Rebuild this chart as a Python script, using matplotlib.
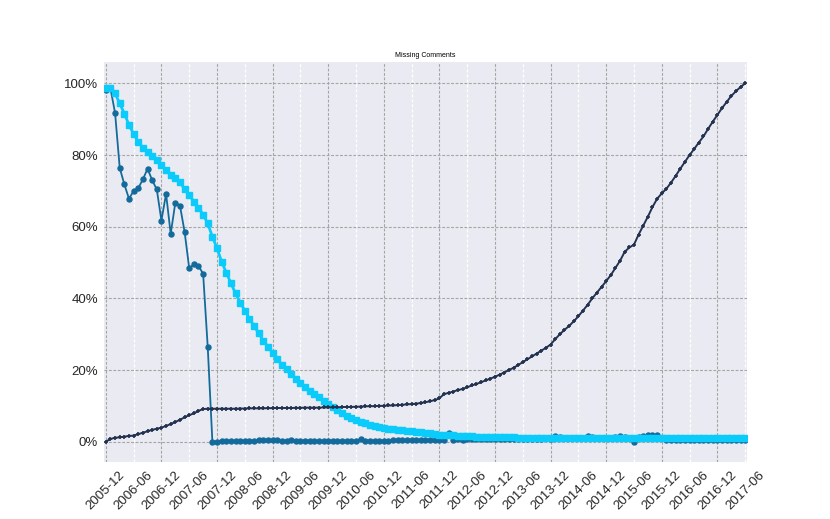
import matplotlib
matplotlib.use("Agg")
import matplotlib.pyplot as plt
import matplotlib.ticker as mticker
import numpy as np
import pandas as pd

plt.rcParams['font.family'] = ['Liberation Sans', 'DejaVu Sans']

# Monthly categories 2005-12 .. 2017-06
months = pd.period_range('2005-12', '2017-06', freq='M')
month_labels = [p.strftime('%Y-%m') for p in months]

title = "Missing Comments"

# Series values (percent)
teal_values = [
    98.2, 98.6, 91.7, 76.4, 71.8, 67.8, 70.0, 70.8, 73.2, 76.2, 73.0, 70.4,
    61.7, 69.2, 58.0, 66.7, 65.9, 58.6, 48.4, 49.5, 49.0, 46.9, 26.3,
    0.0, 0.0, 0.05, 0.1, 0.1, 0.15, 0.15, 0.2,
    0.3, 0.3, 0.35, 0.4, 0.4, 0.35, 0.4, 0.3, 0.3, 0.35, 0.3, 0.3, 0.25, 0.25, 0.25,
    0.2, 0.2, 0.2, 0.25, 0.2, 0.2, 0.25, 0.3, 0.25,
    0.7,
    0.3, 0.3, 0.25, 0.3, 0.3, 0.25, 0.35, 0.4, 0.4, 0.45, 0.5, 0.5, 0.45, 0.4, 0.5, 0.45, 0.4, 0.45,
    2.3,
    0.6, 0.65, 0.6, 0.7, 0.65, 0.7, 0.75, 0.7, 0.7, 0.75, 0.8, 0.7, 0.75, 0.8, 0.8, 0.75,
    0.8, 0.85, 0.8, 0.85, 0.9, 0.85,
    1.6, 1.4,
    0.9, 0.95, 0.9, 1.0, 0.95,
    1.6, 1.3,
    1.0, 0.95, 1.0, 1.0,
    1.4, 1.5, 1.4,
    0.9,
    0.0,
    1.4, 1.5,
    1.9, 2.0, 1.8,
    0.9, 0.6, 0.5, 0.5, 0.45, 0.5, 0.4, 0.45, 0.4, 0.4, 0.45, 0.4, 0.4, 0.35, 0.4, 0.4, 0.35, 0.4, 0.4,
]

cyan_values = [
    98.6, 98.8, 97.2, 94.4, 91.6, 88.4, 85.9, 83.7, 82.0, 80.9, 79.8, 78.6, 77.2,
    75.8, 74.4, 73.5, 72.4, 70.5, 68.8, 67.0, 65.3, 63.4, 60.9, 57.2, 54.0, 50.2,
    47.2, 44.2, 41.4, 38.8, 36.6, 34.3, 32.3, 30.2, 28.2, 26.5, 24.8, 23.1, 21.5,
    20.2, 18.9, 17.6, 16.3, 15.3, 14.2, 13.3, 12.4, 11.3, 10.4, 9.6, 8.8, 7.9,
    7.2, 6.6, 6.1, 5.6, 5.1, 4.7, 4.4, 4.1, 3.9, 3.6, 3.4, 3.3,
    3.2, 3.1, 3.0, 2.8, 2.6, 2.5, 2.3, 2.2, 2.0, 1.9, 1.8, 1.75, 1.7, 1.6, 1.5,
    1.45, 1.4, 1.35, 1.3, 1.3, 1.25, 1.25, 1.2, 1.2, 1.2,
    1.15, 1.15, 1.15, 1.15, 1.15, 1.15, 1.15, 1.15, 1.15, 1.15,
    1.1, 1.1, 1.1, 1.1, 1.1, 1.1, 1.1, 1.1, 1.1, 1.1,
    1.05, 1.05, 1.05, 1.05, 1.05, 1.05, 1.05, 1.05, 1.05, 1.05,
    1.0, 1.0, 1.0, 1.0, 1.0, 1.0, 1.0, 1.0, 1.0, 1.0,
    0.95, 0.95, 0.95, 0.95, 0.95, 0.95, 0.95, 0.95, 0.95, 0.95,
]

navy_values = [
    0.0, 0.75, 1.1, 1.2, 1.4, 1.6, 1.7, 2.1, 2.5, 2.9, 3.3, 3.6, 3.9, 4.4, 4.9,
    5.5, 6.1, 6.8, 7.4, 7.9, 8.6, 9.1, 9.2,
    9.2, 9.2, 9.2, 9.2, 9.2, 9.2, 9.25, 9.25, 9.3, 9.3, 9.3, 9.3, 9.35, 9.35,
    9.4, 9.4, 9.4, 9.4, 9.45, 9.45, 9.5, 9.5, 9.5, 9.5, 9.55,
    9.55, 9.6, 9.6, 9.65, 9.7, 9.7, 9.75, 9.8, 9.85, 9.9, 9.9, 10.0,
    10.0, 10.1, 10.1, 10.2, 10.3, 10.4, 10.5, 10.6, 10.8, 11.0, 11.3, 11.6, 12.1,
    13.3, 13.6, 14.0, 14.4, 14.7, 15.2, 15.7, 16.1, 16.6, 17.1, 17.6, 18.1, 18.7,
    19.3, 20.0, 20.6, 21.4, 22.2, 23.0, 23.8, 24.6, 25.4, 26.2, 27.1,
    28.6, 30.0, 31.2, 32.3, 33.6, 35.0, 36.6, 38.2, 40.0, 41.6, 43.2, 44.8, 46.5,
    48.5, 50.5, 53.0, 54.2, 55.0, 57.8, 60.3, 62.8, 65.5, 67.8, 69.3, 70.6, 72.3,
    74.2, 76.2, 78.1, 80.0, 81.7, 83.5, 85.2, 87.3, 89.3, 91.2, 93.1, 94.8, 96.5,
    97.8, 99.0, 100.0,
]

y_ticks = [0, 20, 40, 60, 80, 100]

x = np.arange(len(months))

fig = plt.figure(figsize=(8.3, 5.19), dpi=100)
ax = fig.add_subplot(111)
ax.set_facecolor('#EAEAF2')
for s in ax.spines.values():
    s.set_visible(False)

ax.plot(x, teal_values, color='#136B9B', lw=1.3, marker='o', ms=3.6, zorder=3)
ax.plot(x, cyan_values, color='#0BCBFA', lw=2.0, marker='s', ms=4.0, zorder=4)
ax.plot(x, navy_values, color='#23324F', lw=1.4, marker='+', ms=3.5, mew=1.2, zorder=5)

ax.set_xlim(-0.45, len(months) - 1 + 0.4)
ax.set_ylim(-5.65, 105.9)

dec_idx = [i for i, p in enumerate(months) if p.month == 12]
jun_idx = [i for i, p in enumerate(months) if p.month == 6]
ax.xaxis.set_major_locator(mticker.FixedLocator(dec_idx))
ax.xaxis.set_minor_locator(mticker.FixedLocator(jun_idx))
fmt = mticker.FuncFormatter(lambda v, pos: month_labels[int(round(v))] if 0 <= int(round(v)) < len(month_labels) else '')
ax.xaxis.set_major_formatter(fmt)
ax.xaxis.set_minor_formatter(fmt)

ax.set_yticks(y_ticks)
ax.yaxis.set_major_formatter(mticker.FuncFormatter(lambda v, pos: '%d%%' % v))

ax.tick_params(axis='x', which='both', length=0, pad=5, labelsize=9.5, labelrotation=45, colors='#262626')
ax.tick_params(axis='y', length=0, pad=4, labelsize=9.5, colors='#262626')
for lab in ax.get_xticklabels(which='both'):
    lab.set_ha('center')

ax.grid(which='major', axis='both', color='#a4a4a4', linestyle=(0, (2.5, 1.5)), linewidth=0.8, zorder=1)
ax.grid(which='minor', axis='x', color='white', linestyle=(0, (2.5, 1.5)), linewidth=0.9, zorder=1)
ax.set_axisbelow(True)

ax.set_title(title, fontsize=5, pad=4)

fig.savefig('out.png', dpi=100)
